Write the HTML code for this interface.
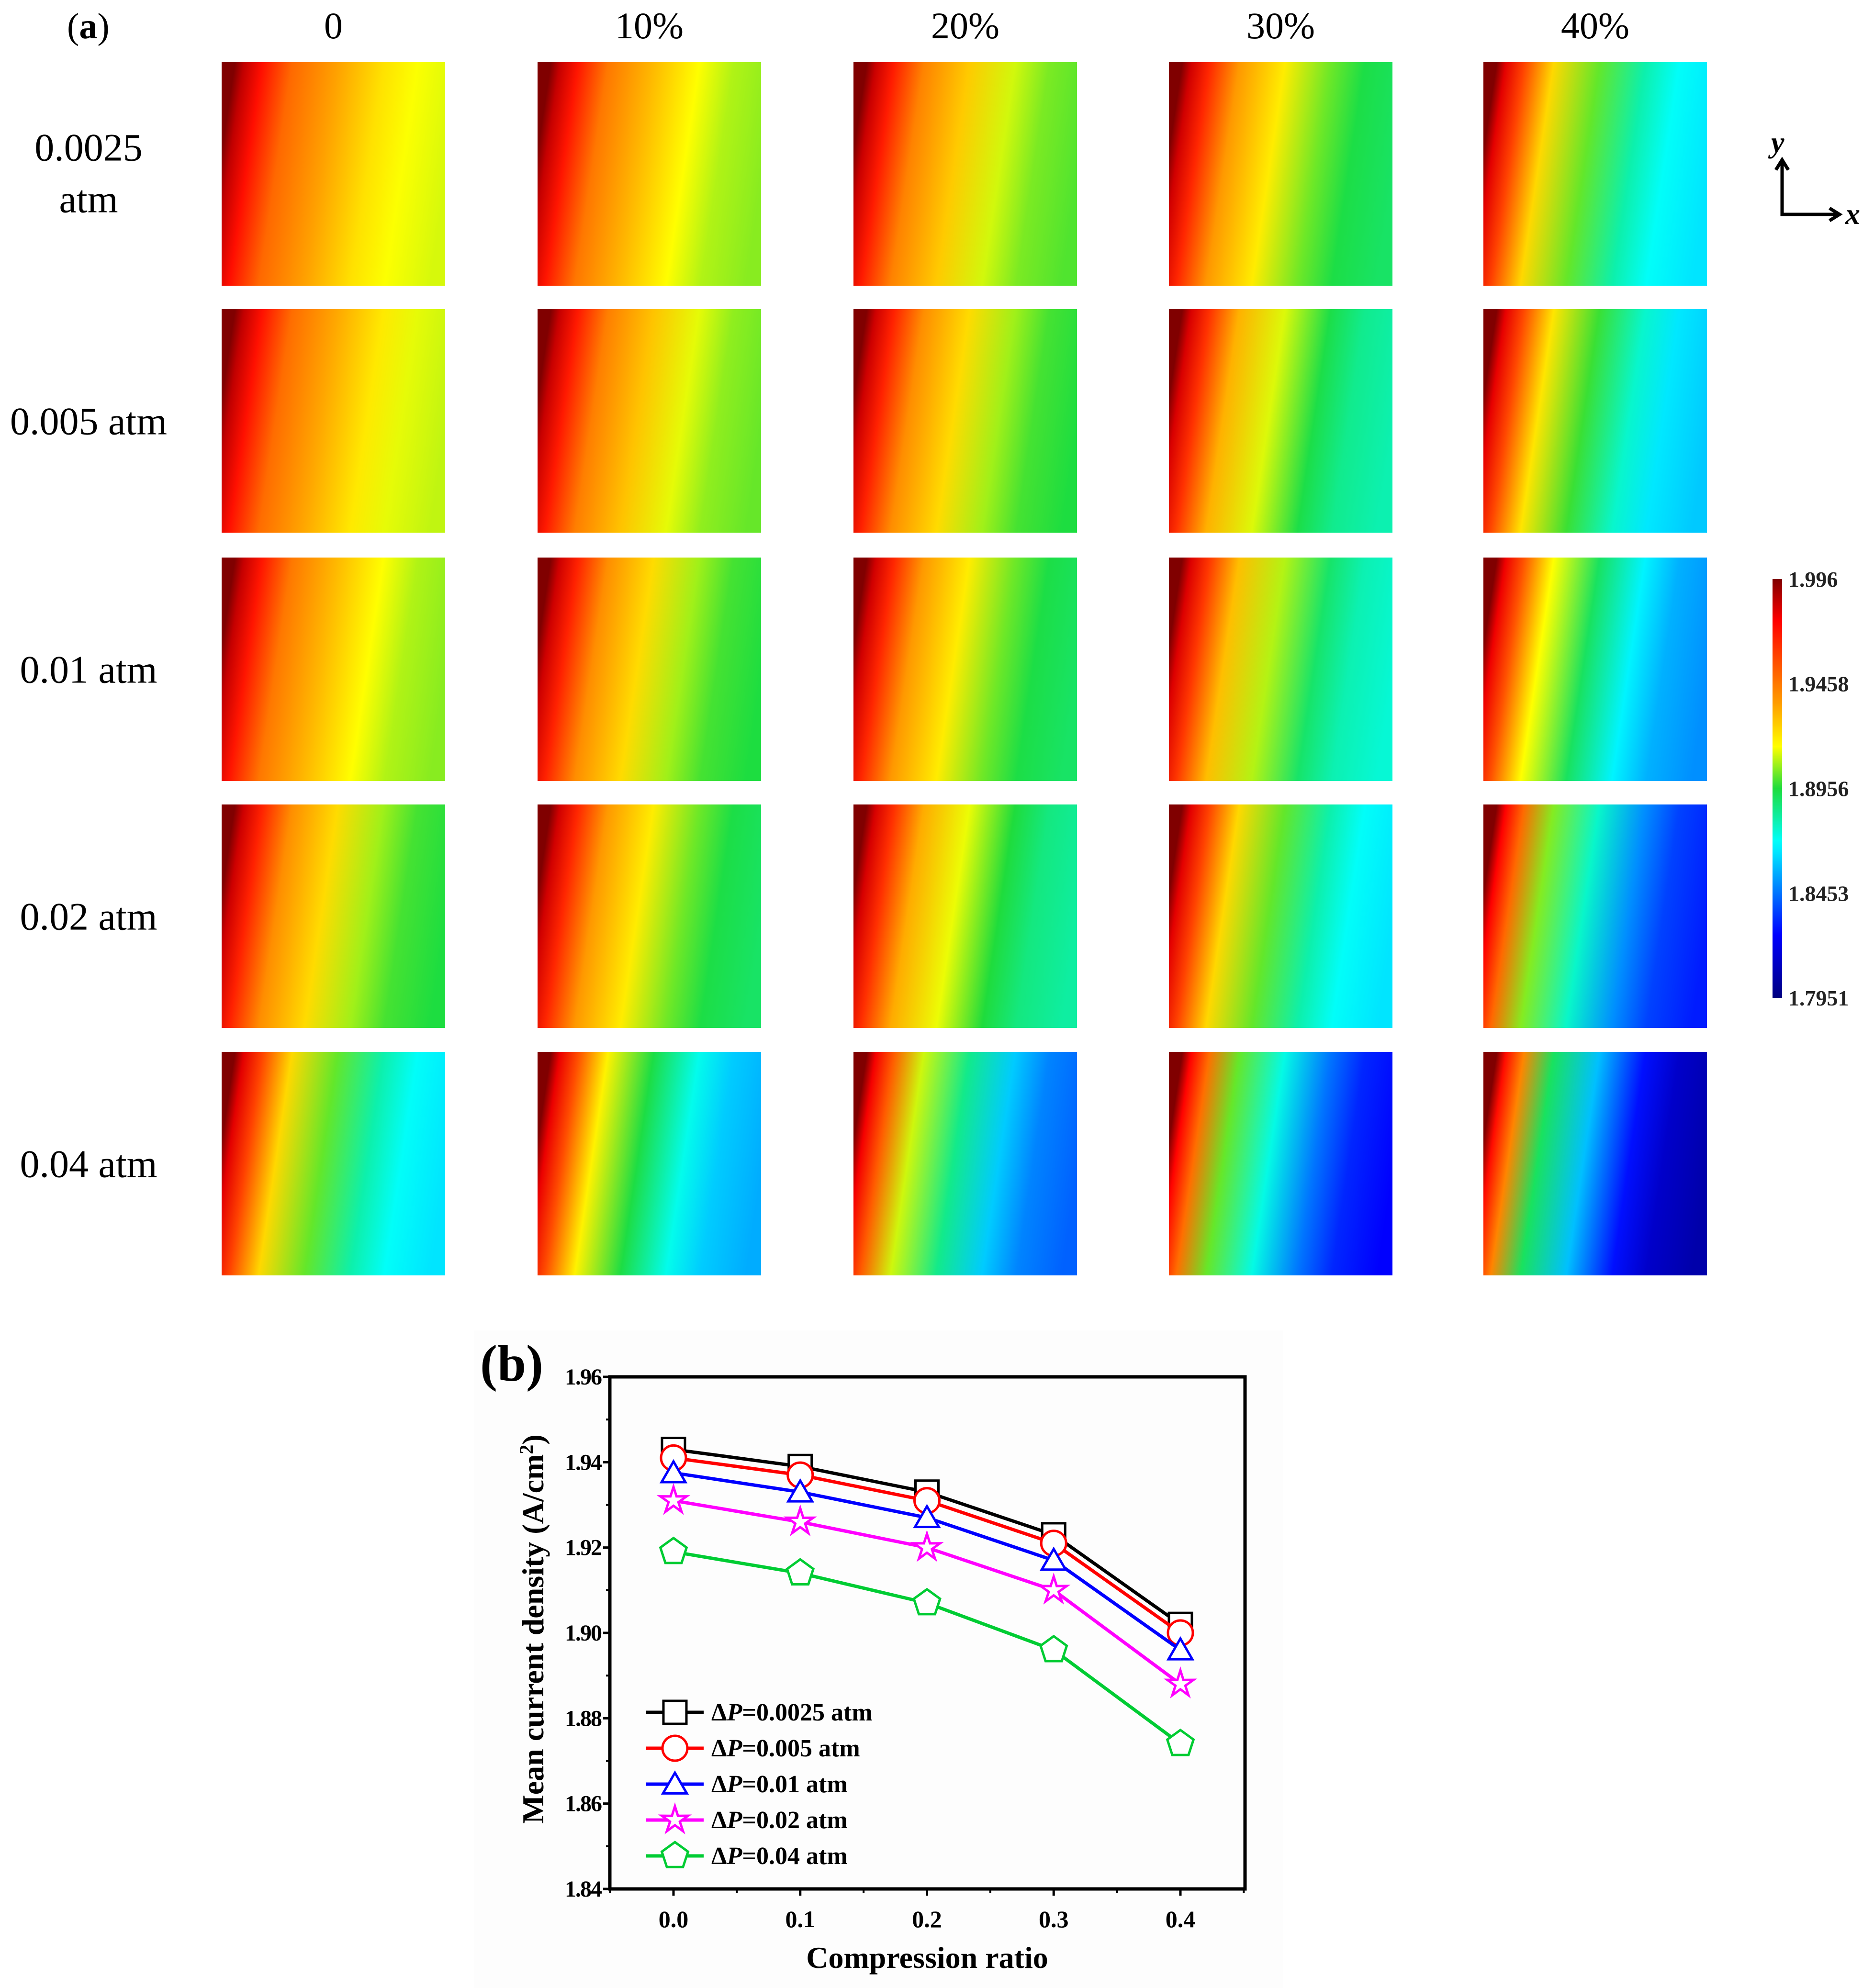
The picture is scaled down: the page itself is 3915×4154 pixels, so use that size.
<!DOCTYPE html>
<html><head><meta charset="utf-8"><style>
html,body{margin:0;padding:0;background:#fff;}
svg{display:block;}
text{font-family:"Liberation Serif",serif;}
</style></head><body>
<svg id="root" width="3915" height="4154" viewBox="0 0 3915 4154" xmlns="http://www.w3.org/2000/svg">
<defs id="defs"></defs>
<g id="panelA">
  <text x="140" y="80" font-size="76">(<tspan font-weight="bold">a</tspan>)</text>
</g>
<g id="axesIcon" stroke="#000" stroke-width="7" fill="none">
  <path d="M3723 340 V448 H3838"/>
  <path d="M3710 355 L3723 334 L3736 355"/>
  <path d="M3822 435 L3843 448 L3822 461"/>
  <text x="3700" y="318" font-size="62" font-style="italic" font-weight="bold" fill="#000" stroke="none">y</text>
  <text x="3855" y="468" font-size="62" font-style="italic" font-weight="bold" fill="#000" stroke="none">x</text>
</g>
<g id="cbar"></g>
<g id="chartB"></g>
</svg>
<script>
var NS="http://www.w3.org/2000/svg";
function mk(tag,attrs,parent){var e=document.createElementNS(NS,tag);for(var k in attrs)e.setAttribute(k,attrs[k]);if(parent)parent.appendChild(e);return e;}
// ---------- Panel (a) data ----------
var colLabels=["0","10%","20%","30%","40%"];
var rowLabels=[["0.0025","atm"],["0.005 atm"],["0.01 atm"],["0.02 atm"],["0.04 atm"]];
var minVals=[[1.912,1.905,1.900,1.890,1.865],
             [1.910,1.902,1.895,1.880,1.860],
             [1.905,1.895,1.890,1.875,1.850],
             [1.895,1.890,1.882,1.865,1.830],
             [1.865,1.855,1.842,1.825,1.805]];
var cbTicks=[1.996,1.9458,1.8956,1.8453,1.7951];
var VMAX=1.996,VMIN=1.7951;
var cmT=[0,0.15,0.37,0.5,0.6,0.7,0.9,1];
var cmC=[[0,0,128],[0,0,255],[0,255,255],[30,220,60],[255,255,0],[255,160,0],[255,0,0],[128,0,0]];
function cmap(t){t=Math.max(0,Math.min(1,t));
 for(var i=1;i<cmT.length;i++){if(t<=cmT[i]){var f=(t-cmT[i-1])/(cmT[i]-cmT[i-1]);var a=cmC[i-1],b=cmC[i];
  return "rgb("+Math.round(a[0]+(b[0]-a[0])*f)+","+Math.round(a[1]+(b[1]-a[1])*f)+","+Math.round(a[2]+(b[2]-a[2])*f)+")";}}
 return "rgb(128,0,0)";}
var defs=document.getElementById('defs');
var gA=document.getElementById('panelA');
var colX=[463,1123,1783,2442,3099];
var rowY=[130,646,1165,1681,2198];
var PW=467,PH=467;
for(var c=0;c<5;c++){
 var t=mk('text',{x:colX[c]+PW/2,y:80,'font-size':78,'text-anchor':'middle'},gA);
 
 
 t.textContent=colLabels[c];
}
for(var r=0;r<5;r++){
 var lbl=rowLabels[r];
 for(var i=0;i<lbl.length;i++){
  var yy=lbl.length==2?rowY[r]+PH/2-28+i*108:rowY[r]+PH/2+28;
  var tt=mk('text',{x:185,y:yy,'font-size':82,'text-anchor':'middle'},gA);
  
  
  tt.textContent=lbl[i];
 }
 for(var c=0;c<5;c++){
  var id='g'+r+'_'+c;
  var lg=mk('linearGradient',{id:id,x1:0,y1:0.4,x2:1,y2:0.55},defs);
  var mn=minVals[r][c];
  var fr=[0,0.04,0.12,0.25,0.45,0.65,0.8,1];
  var sh=[1,0.88,0.72,0.45,0.28,0.12,0.04,0];
  for(var k=0;k<fr.length;k++){
   var v=mn+(VMAX-mn)*sh[k];
   mk('stop',{offset:fr[k],'stop-color':cmap((v-VMIN)/(VMAX-VMIN))},lg);
  }
  var rc=mk('rect',{x:colX[c],y:rowY[r],width:PW,height:PH,fill:'url(#'+id+')'},gA);
  
  
 }
}
// colorbar
var cb=document.getElementById('cbar');
var cg=mk('linearGradient',{id:'cbg',x1:0,y1:0,x2:0,y2:1},defs);
for(var k=0;k<=40;k++){mk('stop',{offset:k/40,'stop-color':cmap(1-k/40)},cg);}
var cbTop=1210,cbBot=2085;
var cbr=mk('rect',{x:3703,y:cbTop,width:20,height:cbBot-cbTop,fill:'url(#cbg)'},cb);


for(var k=0;k<cbTicks.length;k++){
 var yy=cbTop+(VMAX-cbTicks[k])/(VMAX-VMIN)*(cbBot-cbTop);
 var tl=mk('text',{x:3736,y:yy+16,'font-size':46,'font-weight':'bold',fill:'#222'},cb);
 
 
 tl.textContent=cbTicks[k];
}
// ---------- Panel (b) data ----------
var xCats=[0.0,0.1,0.2,0.3,0.4];
var xTickLabels=["0.0","0.1","0.2","0.3","0.4"];
var yTicks=[1.84,1.86,1.88,1.90,1.92,1.94,1.96];
var yTickLabels=["1.84","1.86","1.88","1.90","1.92","1.94","1.96"];
var s0025=[1.943,1.939,1.933,1.923,1.902];
var s005=[1.941,1.937,1.931,1.921,1.900];
var s01=[1.9375,1.933,1.927,1.917,1.896];
var s02=[1.931,1.926,1.920,1.910,1.888];
var s04=[1.919,1.914,1.907,1.896,1.874];
var seriesNames=["0.0025","0.005","0.01","0.02","0.04"];
var series=[s0025,s005,s01,s02,s04];
var colors=["#000","#f00","#00f","#f0f","#0c3"];
var markers=["square","circle","triangle","star","pentagon"];
var L=1274,R=2601,T=2877,B=3947;
function X(v){return 1407+(v-0)/(0.4)*(2466-1407);}
function Y(v){return B-(v-1.84)/(1.96-1.84)*(B-T);}
var gB=document.getElementById('chartB');
var bg=mk('rect',{x:990,y:2780,width:1690,height:1374,fill:'#fdfdfd'},gB);


var fr=mk('rect',{x:L,y:T,width:R-L,height:B-T,fill:'none',stroke:'#000','stroke-width':7},gB);


for(var i=0;i<yTicks.length;i++){
 var y=Y(yTicks[i]);
 var tk=mk('line',{x1:L-14,x2:L,y1:y,y2:y,stroke:'#000','stroke-width':5},gB);
 
 
 if(i<yTicks.length-1){var ym=Y((yTicks[i]+yTicks[i+1])/2);
  var mt=mk('line',{x1:L-8,x2:L,y1:ym,y2:ym,stroke:'#000','stroke-width':4},gB);
  
  }
 var tl=mk('text',{x:L-18,y:y+16,'font-size':48,'font-weight':'bold','text-anchor':'end','letter-spacing':-2},gB);
 
 
 tl.textContent=yTickLabels[i];
}
for(var i=0;i<xCats.length;i++){
 var x=X(xCats[i]);
 var tk=mk('line',{x1:x,x2:x,y1:B,y2:B+14,stroke:'#000','stroke-width':5},gB);
 
 
 var xm=X(xCats[i]+0.05);
 var mt=mk('line',{x1:xm,x2:xm,y1:B,y2:B+8,stroke:'#000','stroke-width':4},gB);
 
 
 var tl=mk('text',{x:x,y:B+80,'font-size':50,'font-weight':'bold','text-anchor':'middle'},gB);
 
 
 tl.textContent=xTickLabels[i];
}
var xm0=mk('line',{x1:X(-0.05),x2:X(-0.05),y1:B,y2:B+8,stroke:'#000','stroke-width':4},gB);


var xt=mk('text',{x:1937,y:4112,'font-size':64,'font-weight':'bold','text-anchor':'middle'},gB);


xt.textContent='Compression ratio';
var yt=mk('text',{x:0,y:0,'font-size':64,'font-weight':'bold','text-anchor':'middle',transform:'translate(1135 3404) rotate(-90)'},gB);


yt.innerHTML='Mean current density (A/cm<tspan dy="-22" font-size="40">2</tspan><tspan dy="22">)</tspan>';
var bl=mk('text',{x:1003,y:2885,'font-size':108,'font-weight':'bold'},gB);


bl.textContent='(b)';
function marker(type,cx,cy,col,parent){
 var s=24,e;
 var st={fill:'#fff',stroke:col,'stroke-width':5};
 if(type=='square'){e=mk('rect',Object.assign({x:cx-s,y:cy-s,width:2*s,height:2*s},st),parent);}
 else if(type=='circle'){e=mk('circle',Object.assign({cx:cx,cy:cy,r:s+2},st),parent);}
 else{var n=type=='triangle'?3:(type=='pentagon'?5:10),pts=[];
  for(var k=0;k<n;k++){var a=-Math.PI/2+k*2*Math.PI/n;var rr=(type=='star'&&k%2)?s*0.45:s*1.2;pts.push((cx+rr*Math.cos(a)).toFixed(1)+','+(cy+rr*Math.sin(a)+(type=='triangle'?5:0)).toFixed(1));}
  e=mk('polygon',Object.assign({points:pts.join(' ')},st),parent);}
 return e;
}
for(var s=0;s<series.length;s++){
 var g=mk('g',{},gB);
 
 
 var d='';
 for(var i=0;i<xCats.length;i++){d+=(i?'L':'M')+X(xCats[i]).toFixed(1)+' '+Y(series[s][i]).toFixed(1);}
 var p=mk('path',{d:d,fill:'none',stroke:colors[s],'stroke-width':7},g);
 
 
 for(var i=0;i<xCats.length;i++){
  var m=marker(markers[s],X(xCats[i]),Y(series[s][i]),colors[s],g);
  
  
 }
 var ly=3578+s*75;
 var lg=mk('g',{},gB);
 
 
 mk('line',{x1:1350,x2:1470,y1:ly,y2:ly,stroke:colors[s],'stroke-width':7},lg);
 marker(markers[s],1410,ly,colors[s],lg);
 var lt=mk('text',{x:1486,y:ly+17,'font-size':52,'font-weight':'bold'},lg);
 lt.innerHTML='&#916;<tspan font-style="italic">P</tspan>='+seriesNames[s]+' atm';
}
</script>
</body></html>
